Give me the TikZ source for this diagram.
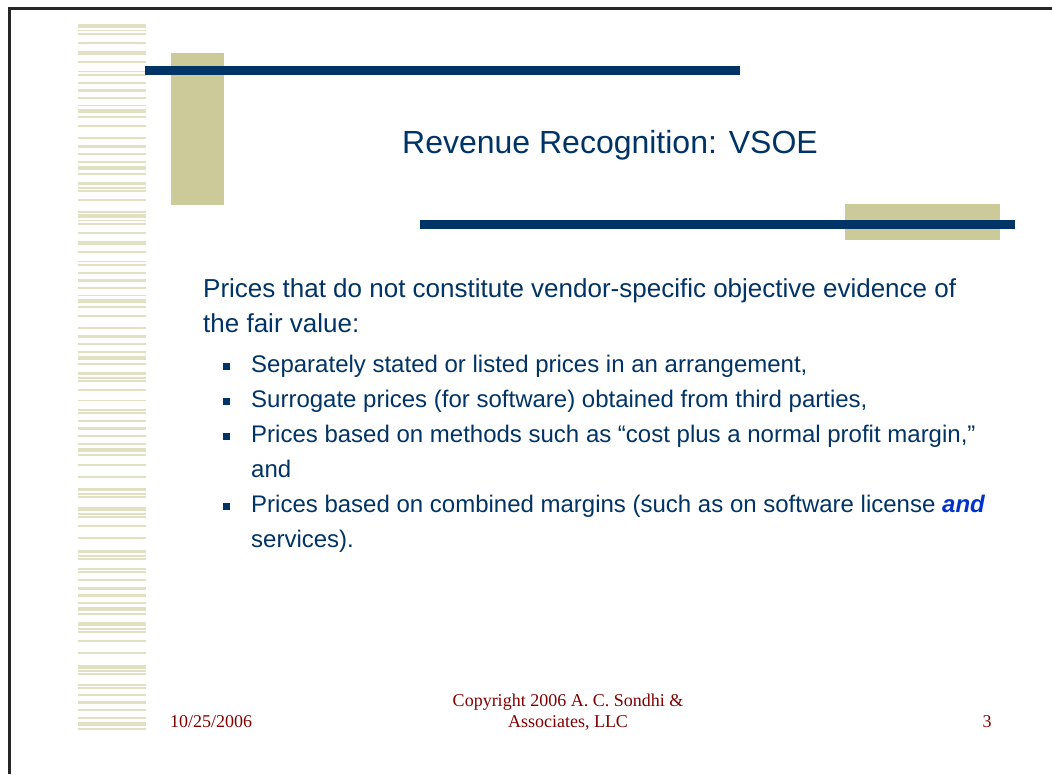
\documentclass[tikz,border=0pt]{standalone}
\usepackage{fontspec}
\setmainfont{Liberation Sans}
\newfontfamily\footserif{Liberation Serif}
\definecolor{navy}{RGB}{0,51,102}
\definecolor{khaki}{RGB}{204,202,152}
\definecolor{stripe}{RGB}{226,224,194}
\definecolor{footred}{RGB}{128,0,0}
\definecolor{andblue}{RGB}{0,51,204}
\tikzset{
  body/.style={anchor=base west, inner sep=0pt, text=navy, font=\fontsize{26}{31}\selectfont},
  bullettext/.style={anchor=base west, inner sep=0pt, text=navy, font=\fontsize{24}{29}\selectfont},
  bulletsq/.style={fill=navy, draw=none, minimum size=7pt, inner sep=0pt},
  foot/.style={inner sep=0pt, text=footred, font=\footserif\fontsize{18}{21}\selectfont},
}
\begin{document}
\begin{tikzpicture}[x=1pt,y=-1pt]
\useasboundingbox (0,0) rectangle (1052,774);
\fill[white] (0,0) rectangle (1052,774);
% striped left band
\foreach \y/\h in {24/3.5,30/1,33/1.5,42/1.5,51/3.5,61/1.5,71/1,74/1.5,82/1.5,89/3,97/1.5,105/1,109/3.5,116/1.5,125/1.5,137/1.5,145/2.5,153/1.5,161/1.5,166/3.5,173/1.5,182/3,187/1.5,190/1.5,199/1.5,211/1.5,
  214/3.5,220/1,223/1.5,232/1.5,241/3.5,251/1.5,261/1,264/1.5,272/1.5,279/3,287/1.5,295/1,299/3.5,306/1.5,315/1.5,327/1.5,335/2.5,343/1.5,351/1.5,356/3.5,363/1.5,372/3,377/1.5,380/1.5,389/1.5,
  400/1,409/1.5,412/1.5,420/1.5,427/3,435/1.5,443/1.5,448/3.5,454/1.5,464/1.5,476/1.5,488/3,493/1.5,496/1.5,507/3.5,513/1.5,516/1.5,525/1.5,537/1.5,550/3,555/1.5,558/1.5,568/1.5,571/1.5,579/1.5,587/2.5,594/2.5,
  602/1.5,607/4,613/1.5,622/4,628/1.5,631/1.5,640/1.5,652/1.5,665/3.5,670/1.5,673/1.5,684/1.5,687/1.5,694/1.5,701/3,709/1.5,717/1.5,722/4,728/1.5}
  \fill[stripe] (78,\y) rectangle (146,\y+\h);
% frame
\draw[line width=2.5pt, black!85] (9.5,774) -- (9.5,8.5) -- (1052,8.5);
% decorative blocks
\fill[khaki] (171,53) rectangle (224,205);
\fill[navy] (145,66) rectangle (740,75);
\fill[khaki] (845,204) rectangle (1000,240);
\fill[navy] (420,220) rectangle (1015,229);
% title
\node[anchor=base, inner sep=0pt, text=navy, font=\fontsize{32}{38}\selectfont] (title) at (610,153) {Revenue Recognition: VSOE};
% body
\node[body] (p1) at (203,297) {Prices that do not constitute vendor-specific objective evidence of};
\node[body] (p2) at (203,332) {the fair value:};
\node[bulletsq] (s1) at (226.5,366.5) {};
\node[bullettext] (b1) at (251,372) {Separately stated or listed prices in an arrangement,};
\node[bulletsq] (s2) at (226.5,401.5) {};
\node[bullettext] (b2) at (251,407) {Surrogate prices (for software) obtained from third parties,};
\node[bulletsq] (s3) at (226.5,436.5) {};
\node[bullettext] (b3) at (251,442) {Prices based on methods such as “cost plus a normal profit margin,”};
\node[bullettext] (b3b) at (251,477) {and};
\node[bulletsq] (s4) at (226.5,506.5) {};
\node[bullettext] (b4) at (251,512) {Prices based on combined margins (such as on software license \textcolor{andblue}{\bfseries\itshape and}};
\node[bullettext] (b4b) at (251,547) {services).};
% footer
\node[foot, anchor=base west] (date) at (170,727) {10/25/2006};
\node[foot, anchor=base] (copy1) at (568,706) {Copyright 2006 A. C. Sondhi \&};
\node[foot, anchor=base] (copy2) at (568,727) {Associates, LLC};
\node[foot, anchor=base] (page) at (987,727) {3};
\end{tikzpicture}
\end{document}
